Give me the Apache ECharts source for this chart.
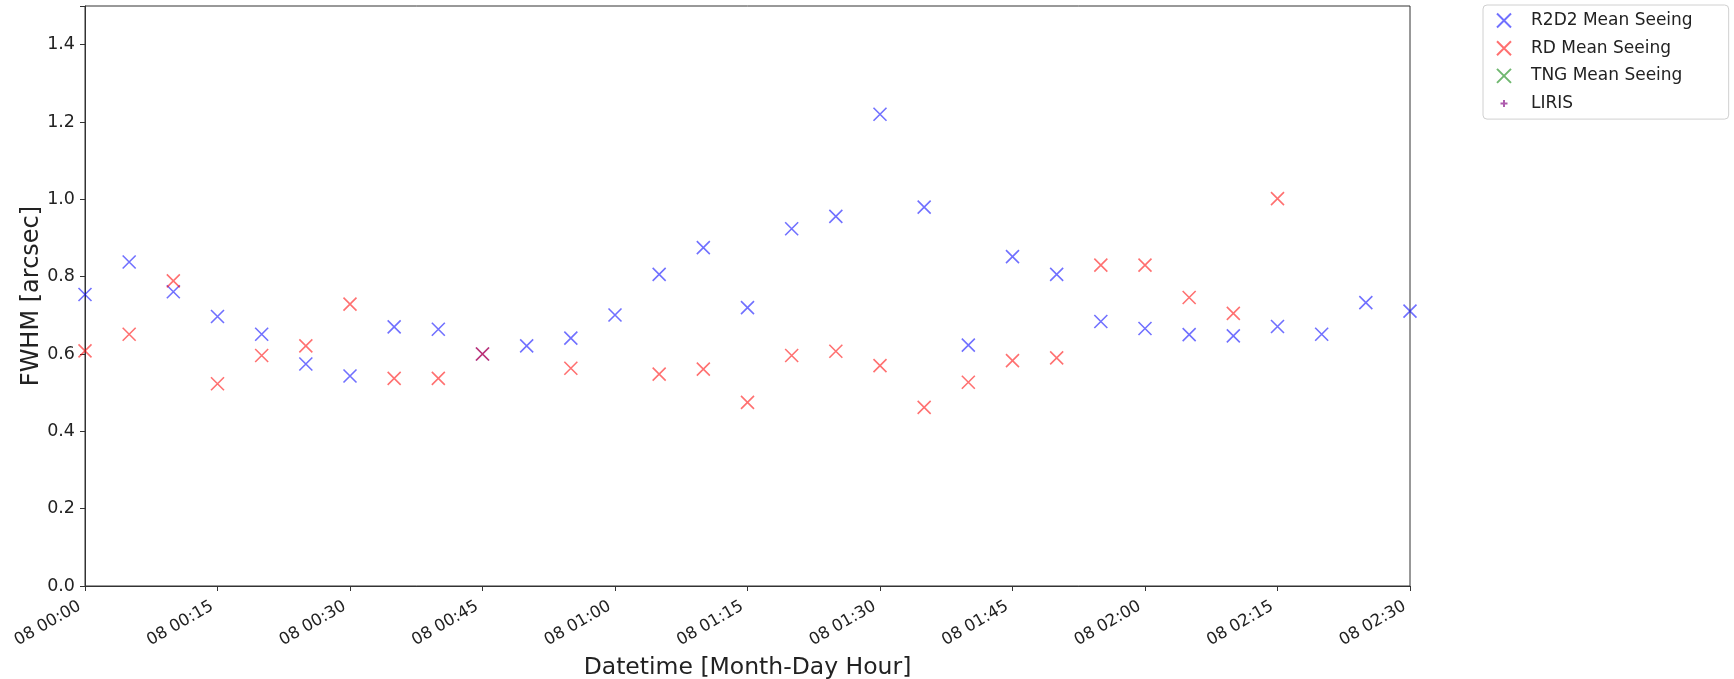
<!DOCTYPE html>
<html>
<head>
<meta charset="utf-8">
<script src="https://cdn.jsdelivr.net/npm/echarts@6/dist/echarts.min.js"></script>
<style>
html,body{margin:0;padding:0;background:#fff;}
#c{width:1734px;height:679px;}
</style>
</head>
<body>
<div id="c"></div>
<script>
// Times (minutes after 08 00:00), 5-minute steps
var times = ['00:00','00:05','00:10','00:15','00:20','00:25','00:30','00:35','00:40','00:45',
             '00:50','00:55','01:00','01:05','01:10','01:15','01:20','01:25','01:30','01:35',
             '01:40','01:45','01:50','01:55','02:00','02:05','02:10','02:15','02:20','02:25','02:30'];
var r2d2 = [0.754,0.838,0.761,0.697,0.651,0.574,0.543,0.670,0.664,0.600,
            0.621,0.641,0.701,0.806,0.875,0.720,0.924,0.956,1.220,0.980,
            0.623,0.852,0.806,0.684,0.666,0.650,0.647,0.671,0.651,0.733,0.711];
var rd   = [0.608,0.651,0.789,0.523,0.596,0.621,0.729,0.537,0.537,0.600,
            null,0.563,null,0.548,0.561,0.475,0.596,0.607,0.570,0.462,
            0.527,0.583,0.590,0.830,0.830,0.746,0.705,1.002,null,null,null];
var tng = [];
var liris = [];
var xTicks = ['08 00:00','08 00:15','08 00:30','08 00:45','08 01:00','08 01:15',
              '08 01:30','08 01:45','08 02:00','08 02:15','08 02:30'];
var yTicks = ['0.0','0.2','0.4','0.6','0.8','1.0','1.2','1.4'];

function toMin(t){ var p=t.split(':'); return (+p[0])*60 + (+p[1]); }
function pairs(vals){
  var out=[];
  for (var i=0;i<vals.length;i++){ if (vals[i]!==null && vals[i]!==undefined) out.push([toMin(times[i]), vals[i]]); }
  return out;
}
var X = 'path://M0,0L10,10M10,0L0,10';
var PLUS = 'path://M5,0L5,10M0,5L10,5';
var PLUS_SMALL = 'path://M0,0M10,10M5,2.5L5,7.5M2.5,5L7.5,5';
var FONT = 'DejaVu Sans';

var chart = echarts.init(document.getElementById('c'));
function xs(name, data, col, sym, size){
  return {
    name: name, type: 'scatter', data: data, symbol: sym, symbolSize: size,
    itemStyle: {color: 'rgba(0,0,0,0)', borderColor: col, borderWidth: 1.6},
    emphasis: {disabled: true}, z: 3
  };
}
chart.setOption({
  animation: false,
  backgroundColor: '#fff',
  textStyle: {fontFamily: FONT},
  grid: {left: 85, right: 324, top: 6, bottom: 93, show: true, borderColor: '#333', borderWidth: 1,
         containLabel: false, outerBoundsMode: 'none'},
  legend: {
    orient: 'vertical', left: 1483, top: 5, width: 244,
    padding: [7, 36, 7, 13],
    backgroundColor: '#fff', borderColor: '#d0d0d0', borderWidth: 1, borderRadius: 4,
    itemWidth: 14, itemHeight: 14, itemGap: 10.7,
    textStyle: {fontFamily: FONT, fontSize: 17, color: '#222', padding: [0,0,0,15]},
    data: ['R2D2 Mean Seeing','RD Mean Seeing','TNG Mean Seeing',
           {name: 'LIRIS', icon: PLUS_SMALL}]
  },
  xAxis: {
    type: 'value', min: 0, max: 150, interval: 15,
    name: 'Datetime [Month-Day Hour]', nameLocation: 'middle', nameGap: 64,
    nameTextStyle: {fontFamily: FONT, fontSize: 23.5, color: '#222'},
    axisLine: {show: true, lineStyle: {color: '#333', width: 1}},
    axisTick: {show: true, length: 5, lineStyle: {color: '#333'}},
    axisLabel: {rotate: 30, fontFamily: FONT, fontSize: 16.5, color: '#222', margin: 16,
      padding: [0, 6, 0, 0],
      formatter: function(v){ return xTicks[Math.round(v/15)]; }},
    splitLine: {show: false}
  },
  yAxis: {
    type: 'value', min: 0, max: 1.5, interval: 0.2,
    name: 'FWHM [arcsec]', nameLocation: 'middle', nameGap: 41, nameMoveOverlap: false,
    nameTextStyle: {fontFamily: FONT, fontSize: 24, color: '#222'},
    axisLine: {show: true, lineStyle: {color: '#333', width: 1}},
    axisTick: {show: true, length: 5, lineStyle: {color: '#333'}},
    axisLabel: {fontFamily: FONT, fontSize: 17.5, color: '#222', margin: 10,
      formatter: function(v){ var i=Math.round(v/0.2); return (Math.abs(v-i*0.2)<1e-6 && i<yTicks.length) ? yTicks[i] : ''; }},
    splitLine: {show: false}
  },
  series: [
    xs('R2D2 Mean Seeing', pairs(r2d2), 'rgba(0,0,255,0.7)', X, 13),
    xs('RD Mean Seeing', pairs(rd), 'rgba(255,0,0,0.7)', X, 13),
    xs('TNG Mean Seeing', tng, 'rgba(0,128,0,0.7)', X, 13),
    xs('LIRIS', liris, 'rgba(128,0,128,0.8)', PLUS, 8)
  ]
});
</script>
</body>
</html>
